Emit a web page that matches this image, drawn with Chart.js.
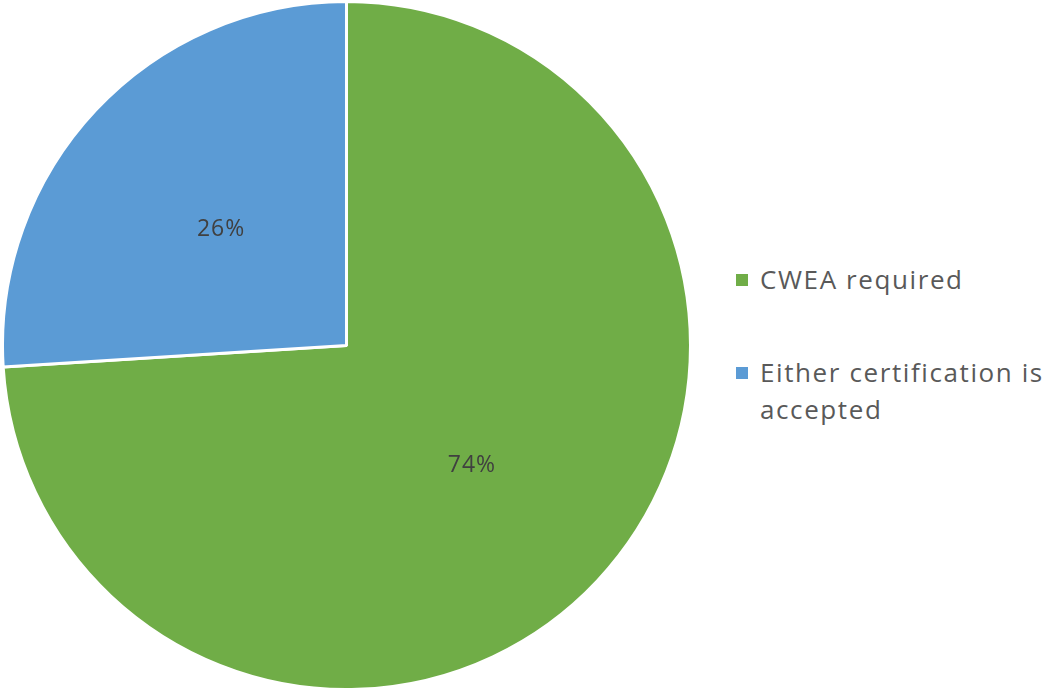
<!DOCTYPE html>
<html>
<head>
<meta charset="utf-8">
<script src="https://cdn.jsdelivr.net/npm/chart.js@4.4.0/dist/chart.umd.min.js"></script>
<style>
    body { margin: 0; background: #fff; font-family: "Open Sans", Lato, sans-serif; }
    #wrap { position: relative; width: 1048px; height: 691px; }
    #chartBox { position: absolute; left: 0; top: 0; width: 693px; height: 691px; }
    #legend { position: absolute; left: 736px; top: 261px; width: 312px; }
    .legend-item { display: flex; align-items: flex-start; margin-bottom: 56px; }
    .legend-color { width: 12px; height: 12px; margin-top: 13px; margin-right: 12px; flex: none; }
    .legend-text { font-size: 26px; line-height: 37px; color: #595959; letter-spacing: 1.6px; white-space: nowrap; }
</style>
</head>
<body>
<div id="wrap">
    <div id="chartBox"><canvas id="pieChart"></canvas></div>
    <div id="legend"></div>
</div>
<script>
const categories = ['CWEA required', 'Either certification is accepted'];
const legendLines = [['CWEA required'], ['Either certification is', 'accepted']];
const shares = [74, 26];
const sliceColors = ['#70AD47', '#5B9BD5'];

// percent labels inside the slices
const sliceLabels = {
    id: 'sliceLabels',
    afterDatasetsDraw(chart) {
        const ctx = chart.ctx;
        const meta = chart.getDatasetMeta(0);
        ctx.save();
        ctx.font = '23px "Open Sans", Lato, sans-serif';
        ctx.letterSpacing = '1px';
        ctx.fillStyle = '#404040';
        ctx.textAlign = 'center';
        ctx.textBaseline = 'middle';
        meta.data.forEach((arc, i) => {
            const p = arc.tooltipPosition();
            ctx.fillText(shares[i] + '%', p.x, p.y + 2);
        });
        ctx.restore();
    }
};

new Chart(document.getElementById('pieChart'), {
    type: 'pie',
    data: {
        labels: categories,
        datasets: [{
            data: shares,
            backgroundColor: sliceColors,
            borderColor: '#ffffff',
            borderWidth: 3
        }]
    },
    options: {
        responsive: true,
        maintainAspectRatio: false,
        animation: false,
        layout: { padding: 0 },
        plugins: {
            legend: { display: false },
            tooltip: { enabled: false }
        }
    },
    plugins: [sliceLabels]
});

// Custom legend
const legendContainer = document.getElementById('legend');
categories.forEach((label, index) => {
    const item = document.createElement('div');
    item.classList.add('legend-item');
    const box = document.createElement('span');
    box.classList.add('legend-color');
    box.style.backgroundColor = sliceColors[index];
    const text = document.createElement('span');
    text.classList.add('legend-text');
    text.innerHTML = legendLines[index].join('<br>');
    item.appendChild(box);
    item.appendChild(text);
    legendContainer.appendChild(item);
});
</script>
</body>
</html>
